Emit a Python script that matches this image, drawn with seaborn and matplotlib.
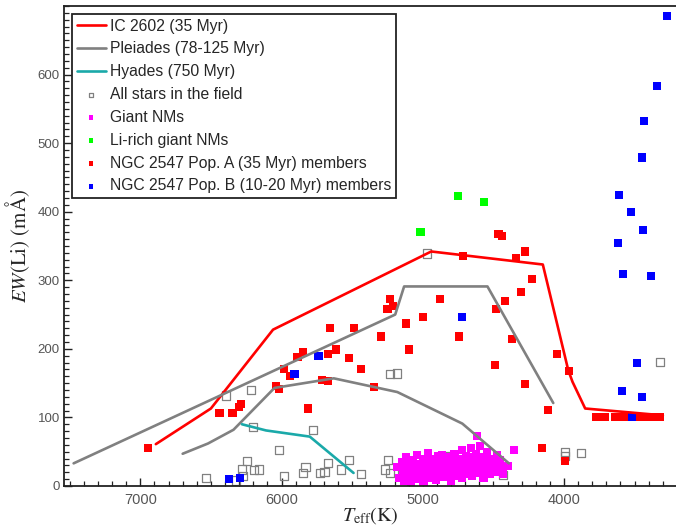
import matplotlib
matplotlib.use("Agg")
import matplotlib.pyplot as plt
from matplotlib.ticker import MultipleLocator
import seaborn as sns

# ---- model isochrone curves (Teff [K], EW(Li) [mA]) ----
ic2602_t = [6890, 6500, 6060, 4940, 4150, 3970, 3940, 3850, 3300]
ic2602_ew = [61, 113, 228, 342, 323, 169, 152, 113, 103]

pleiades_upper_t = [7472, 5195, 5132, 4542, 4076]
pleiades_upper_ew = [33, 250, 291, 291, 121]
pleiades_lower_t = [6700, 6520, 6340, 6050, 5630, 5180, 4720, 4390]
pleiades_lower_ew = [47, 62, 82, 143, 157, 137, 91, 33]

hyades_t = [6280, 6110, 5800, 5490]
hyades_ew = [90, 81, 72, 19]

# ---- all stars in the field ----
field_t = [6394, 6214, 6205, 5780, 6018, 6245, 6281, 6192, 6159, 6274, 6323,
           6535, 5981, 5830, 5850, 5726, 5696, 5672, 5578, 5521, 5436, 5266,
           5243, 5231, 5149, 5118, 4835, 4866, 4795, 4913, 4434, 3992, 3992,
           3881, 5231, 5184, 4967, 3320]
field_ew = [132, 140, 86, 81, 52, 36, 24, 23, 24, 14, 8,
            11, 14, 28, 19, 19, 21, 33, 24, 38, 17, 24,
            38, 19, 17, 34, 44, 38, 38, 31, 16, 49, 44,
            48, 163, 164, 339, 181]

# ---- giant non-members ----
giant_t = [5180, 5165, 5150, 5140, 5130, 5120, 5110, 5100, 5095, 5085, 5080,
           5070, 5060, 5055, 5045, 5040, 5030, 5020, 5015, 5005, 5000, 4995,
           4985, 4975, 4970, 4960, 4955, 4945, 4940, 4930, 4920, 4915, 4905,
           4900, 4890, 4885, 4875, 4865, 4860, 4850, 4845, 4835, 4825, 4820,
           4810, 4800, 4795, 4785, 4775, 4770, 4760, 4750, 4745, 4735, 4725,
           4720, 4710, 4700, 4695, 4685, 4675, 4670, 4660, 4650, 4645, 4635,
           4625, 4620, 4610, 4600, 4595, 4585, 4575, 4570, 4560, 4550, 4545,
           4535, 4525, 4515, 4505, 4495, 4485, 4475, 4470, 4460, 4450, 4440,
           4430, 4615, 4355, 4400, 5050, 4980, 4880, 4780, 4680, 4580, 4950,
           4850, 4750, 4650, 4550, 5010, 4910, 4810, 4710, 4610, 4510, 5125,
           5075, 4965, 4865, 4765, 4665, 4565]
giant_ew = [28, 12, 35, 20, 8, 42, 25, 15, 33, 5, 22,
            38, 18, 28, 10, 45, 24, 32, 14, 20, 40, 6,
            27, 35, 17, 48, 23, 12, 30, 38, 20, 26, 9,
            34, 44, 16, 28, 22, 37, 13, 31, 25, 42, 18,
            30, 8, 36, 24, 46, 15, 33, 27, 40, 20, 52,
            11, 35, 28, 44, 18, 38, 25, 55, 14, 32, 22,
            47, 29, 37, 19, 58, 26, 42, 12, 34, 23, 50,
            30, 17, 40, 27, 36, 21, 45, 31, 24, 38, 28,
            18, 73, 52, 29, 30, 22, 35, 30, 32, 35, 40,
            26, 20, 42, 32, 26, 14, 38, 25, 27, 33, 30,
            12, 30, 45, 38, 18, 26]

# ---- Li-rich giant non-members ----
lirich_t = [4752, 4565, 5016]
lirich_ew = [423, 414, 370]

# ---- NGC 2547 population A ----
popa_t = [6948, 6439, 6347, 6300, 6290, 6038, 6018, 5813, 5714, 5672, 5344,
          5887, 5851, 5981, 5943, 5231, 5212, 5250, 4875, 4997, 5118, 5297,
          5099, 4742, 4481, 4491, 5654, 5484, 5670, 5615, 5521, 5439, 4464,
          4441, 4273, 4341, 4715, 4229, 4302, 4415, 4368, 4049, 3967, 4275,
          4115, 4153, 3992,
          3775, 3745, 3710, 3640, 3610, 3580, 3550, 3520, 3490, 3460, 3430,
          3400, 3370, 3340, 3320]
popa_ew = [56, 107, 106, 115, 120, 146, 141, 113, 154, 153, 144,
           188, 195, 170, 161, 273, 262, 258, 273, 247, 237, 218,
           199, 218, 258, 177, 231, 230, 193, 199, 187, 171, 368,
           364, 342, 333, 335, 302, 283, 270, 214, 192, 168, 149,
           111, 55, 37,
           101, 101, 100, 101, 100, 101, 101, 100, 101, 100, 101,
           100, 101, 100, 101]

# ---- NGC 2547 population B ----
popb_t = [6375, 6292, 5908, 5738, 4723, 3273, 3339, 3431, 3450, 3610, 3525,
          3440, 3619, 3582, 3384, 3481, 3592, 3450, 3517]
popb_ew = [10, 12, 163, 190, 246, 686, 584, 532, 479, 424, 399,
           373, 354, 309, 306, 180, 138, 130, 101]

sns.set_style("ticks")
plt.rcParams["font.family"] = ["Liberation Sans", "DejaVu Sans"]
plt.rcParams["mathtext.fontset"] = "stix"

fig = plt.figure(figsize=(6.76, 5.32), dpi=100)
ax = fig.add_axes([0.0947, 0.0865, 0.9053, 0.9022])

lw = 1.9
sns.lineplot(x=ic2602_t, y=ic2602_ew, sort=False, estimator=None, ax=ax,
             color="#ff0000", lw=lw, label="IC 2602 (35 Myr)")
sns.lineplot(x=pleiades_upper_t, y=pleiades_upper_ew, sort=False, estimator=None,
             ax=ax, color="#808080", lw=lw, label="Pleiades (78-125 Myr)")
sns.lineplot(x=pleiades_lower_t, y=pleiades_lower_ew, sort=False, estimator=None,
             ax=ax, color="#808080", lw=lw, label="_nolegend_")
sns.lineplot(x=hyades_t, y=hyades_ew, sort=False, estimator=None, ax=ax,
             color="#1aa9a9", lw=lw, label="Hyades (750 Myr)")

ms = 34
sns.scatterplot(x=field_t, y=field_ew, ax=ax, marker="s", s=ms,
                facecolors="none", edgecolor="#808080", linewidth=0.9,
                label="All stars in the field")
sns.scatterplot(x=giant_t, y=giant_ew, ax=ax, marker="s", s=ms,
                color="#ff00ff", edgecolor="none", linewidth=0,
                label="Giant NMs")
sns.scatterplot(x=lirich_t, y=lirich_ew, ax=ax, marker="s", s=ms,
                color="#00ff00", edgecolor="none", linewidth=0,
                label="Li-rich giant NMs")
sns.scatterplot(x=popa_t, y=popa_ew, ax=ax, marker="s", s=ms,
                color="#ff0000", edgecolor="none", linewidth=0,
                label="NGC 2547 Pop. A (35 Myr) members")
sns.scatterplot(x=popb_t, y=popb_ew, ax=ax, marker="s", s=ms,
                color="#0000ff", edgecolor="none", linewidth=0,
                label="NGC 2547 Pop. B (10-20 Myr) members")

ax.set_xlim(7540, 3207)
ax.set_ylim(0, 700)
ax.xaxis.set_major_locator(MultipleLocator(1000))
ax.xaxis.set_minor_locator(MultipleLocator(100))
ax.yaxis.set_major_locator(MultipleLocator(100))
ax.yaxis.set_minor_locator(MultipleLocator(10))
ax.set_xticks([7000, 6000, 5000, 4000])
ax.set_yticks([0, 100, 200, 300, 400, 500, 600])

ax.tick_params(which="both", direction="in", top=False, right=False,
               colors="#222222", labelcolor="#555555")
ax.tick_params(axis="x", which="major", length=6, width=1, labelsize=10.5, pad=5)
ax.tick_params(axis="x", which="minor", length=3.5, width=0.9)
ax.tick_params(axis="y", which="major", length=6, width=1, labelsize=9.5, pad=3)
ax.tick_params(axis="y", which="minor", length=3.5, width=0.9)

for side in ("left", "bottom", "top"):
    ax.spines[side].set_color("#222222")
    ax.spines[side].set_linewidth(1.3)
ax.spines["right"].set_visible(False)

ax.set_xlabel(r"$T_{\rm eff}$(K)", fontsize=14.5, family="STIXGeneral", labelpad=-1)
ax.set_ylabel(r"$EW$(Li) (mÅ)", fontsize=15, family="STIXGeneral", labelpad=4)

leg = ax.legend(loc="upper left", fontsize=11.3, frameon=True, fancybox=False,
                framealpha=1, edgecolor="#222222", borderaxespad=0.5,
                handlelength=1.85, handletextpad=0.28, labelspacing=0.5,
                borderpad=0.3, markerscale=0.58)
leg.get_frame().set_linewidth(1.3)

fig.savefig("out.png", dpi=100)
